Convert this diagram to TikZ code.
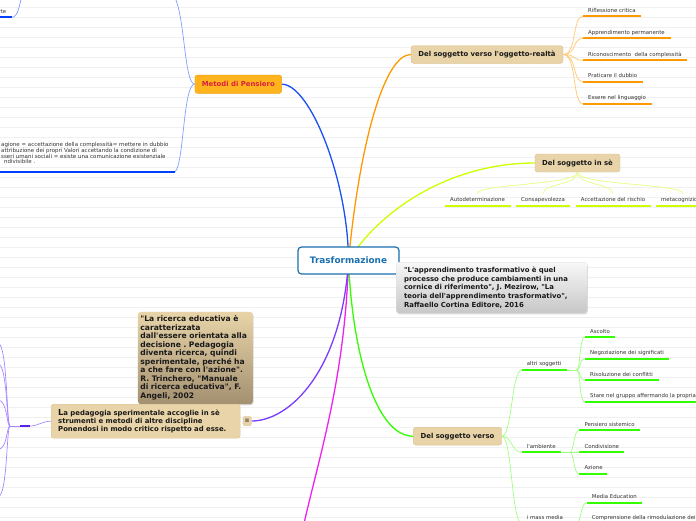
\documentclass[tikz,border=0pt]{standalone}
\usepackage{fontspec}
\setmainfont{DejaVu Sans}[Ligatures=TeXOff]
\usetikzlibrary{shadows,backgrounds}
\frenchspacing
\definecolor{rulegray}{HTML}{F0F0F0}
\definecolor{hubblue}{HTML}{1A6FAE}
\definecolor{boxtan}{HTML}{E8D4A8}
\definecolor{boxtanedge}{HTML}{DCC493}
\definecolor{ricdark}{HTML}{A39070}
\definecolor{metfill}{HTML}{FFB41E}
\definecolor{metedge}{HTML}{F0A010}
\definecolor{metred}{HTML}{D8213F}
\definecolor{leafgray}{HTML}{333333}
\definecolor{cblue}{HTML}{1A50F5}
\definecolor{lblue}{HTML}{80A0FF}
\definecolor{ulblue}{HTML}{0040FF}
\definecolor{corange}{HTML}{FF9900}
\definecolor{lorange}{HTML}{FFC870}
\definecolor{clime}{HTML}{CCFF00}
\definecolor{llime}{HTML}{E2FF80}
\definecolor{cgreen}{HTML}{33FF00}
\definecolor{lgreen}{HTML}{A0FF80}
\definecolor{cmag}{HTML}{EE22EE}
\definecolor{cpurp}{HTML}{7A3CFF}
\definecolor{lpurp}{HTML}{A888FF}
\definecolor{ulpurp}{HTML}{5522EE}
\tikzset{
  ruling/.style={draw=rulegray, line width=0.6pt},
  hub/.style={draw=hubblue, line width=1.2pt, fill=white, rounded corners=3.5pt, text=hubblue,
    font=\fontsize{8.9}{10}\selectfont\bfseries, minimum width=101pt, minimum height=27pt, inner sep=0pt},
  topic/.style={fill=boxtan, draw=boxtanedge, line width=0.4pt, rounded corners=2.5pt, text=black!90,
    font=\fontsize{6.9}{8}\selectfont\bfseries, inner sep=0pt},
  metodo/.style={fill=metfill, draw=metedge, line width=0.4pt, rounded corners=2.5pt, text=metred,
    font=\fontsize{6.9}{8}\selectfont\bfseries, inner sep=0pt},
  leaftext/.style={font=\fontsize{5.4}{6}\selectfont, text=leafgray, inner sep=0pt, anchor=base west},
  ul/.style={line width=2.2pt, draw=#1},
  twig/.style={line width=0.7pt, draw=#1},
  limb/.style={line width=1.3pt, draw=#1},
  quotebox/.style={top color=black!3, bottom color=black!22, draw=black!12, line width=0.3pt,
    rounded corners=3pt, drop shadow={shadow xshift=0.6pt, shadow yshift=-1.2pt, opacity=0.3},
    text width=175pt, align=left, inner xsep=8pt, inner ysep=4.5pt, minimum height=51pt,
    font=\fontsize{6.9}{8.6}\selectfont\bfseries, text=black!90},
  ricbox/.style={top color=boxtan, bottom color=ricdark, draw=none,
    rounded corners=3pt, drop shadow={shadow xshift=0.6pt, shadow yshift=-1.2pt, opacity=0.3},
    text width=110pt, align=left, inner xsep=2.5pt, inner ysep=4pt, minimum height=91.7pt,
    font=\fontsize{7.6}{8.5}\selectfont\bfseries, text=black!90},
}
\newcommand\leafline[6]{%
  \draw[ul=#5] (#2,#4) coordinate (#1) -- (#3,#4) coordinate (#1e);
  \node[leaftext] (#1t) at ([xshift=5pt,yshift=4.3pt]#1) {#6};
}
\begin{document}
\begin{tikzpicture}[x=1pt,y=-1pt]
\useasboundingbox (0,0) rectangle (696,520);
\clip (0,0) rectangle (696,520);
\begin{scope}[on background layer]
  \fill[white] (0,0) rectangle (696,520);
  \foreach \k in {0,...,51} \draw[ruling] (0,7+10*\k) -- (696,7+10*\k);
\end{scope}

% ---- main nodes
\node[hub] (C) at (348.5,260.5) {Trasformazione};
\node[topic, minimum width=152pt, minimum height=17.6pt] (OR) at (487,54.5) {Del soggetto verso l'oggetto-realtà};
\node[topic, minimum width=85pt, minimum height=18pt] (SE) at (577.5,163) {Del soggetto in sè};
\node[topic, minimum width=88.4pt, minimum height=17.7pt] (SV) at (457.5,436.2) {Del soggetto verso};
\node[metodo, minimum width=86.7pt, minimum height=18.3pt] (MP) at (238.3,84.2) {Metodi di Pensiero};

\node[quotebox, anchor=north west] (Q) at (396,262) {"L'apprendimento trasformativo è quel\\processo che produce cambiamenti in una\\cornice di riferimento", J. Mezirow, "La\\teoria dell'apprendimento trasformativo",\\Raffaello Cortina Editore, 2016};

\node[ricbox, anchor=north west] (R) at (137.7,311.7) {"La ricerca educativa è\\caratterizzata\\dall'essere orientata alla\\decisione . Pedagogia\\diventa ricerca, quindi\\sperimentale, perché ha\\a che fare con l'azione".\\R. Trinchero, "Manuale\\di ricerca educativa", F.\\Angeli, 2002};

\node[topic, anchor=north west, text width=175pt, align=left, inner xsep=7pt, inner ysep=4pt,
  minimum height=34pt, font=\fontsize{6.9}{8.3}\selectfont\bfseries] (P) at (51,404)
  {{\fontsize{8.3}{8.3}\selectfont L}a pedagogia sperimentale accoglie in sè\\strumenti e metodi di altre discipline\\Ponendosi in modo critico rispetto ad esse.};
\node[topic, minimum width=8.5pt, minimum height=9.5pt, font=\fontsize{6}{6}\selectfont] (PI) at (247.2,421) {≡};

% ---- left text block (Metodi di Pensiero)
\node[anchor=north west, inner sep=0pt, align=left, text=leafgray, font=\fontsize{5.5}{5.9}\selectfont] (LT) at (1,141.6)
  {agione = accettazione della complessità= mettere in dubbio\\attribuzione dei propri Valori accettando la condizione di\\sseri umani sociali = esiste una comunicazione esistenziale\\\hspace*{3pt}ndivisibile .};
\draw[ul=ulblue] (-3,171.7) coordinate (LTs) -- (175,171.7) coordinate (LTe);
\node[leaftext, anchor=base east] (TLt) at (6.5,13.2) {rte};
\draw[ul=ulblue] (-3,17.3) coordinate (TLs) -- (11.7,17.3) coordinate (TLe);
\coordinate (MPup) at (174,-4);
\coordinate (TLup) at (22,-4);

% ---- orange leaves
\leafline{o1}{583}{641}{16.3}{corange}{Riflessione critica}
\leafline{o2}{583}{670.7}{38.3}{corange}{Apprendimento permanente}
\leafline{o3}{583}{687}{60.3}{corange}{Riconoscimento\ \ della complessità}
\leafline{o4}{583}{643}{81.7}{corange}{Praticare il dubbio}
\leafline{o5}{583}{651.7}{103.7}{corange}{Essere nel linguaggio}

% ---- lime leaves
\leafline{l1}{445}{511}{205.7}{clime}{Autodeterminazione}
\leafline{l2}{516}{570}{205.7}{clime}{Consapevolezza}
\leafline{l3}{575.7}{650.7}{205.7}{clime}{Accettazione del rischio}
\leafline{l4}{656}{705}{205.7}{clime}{metacognizione}

% ---- green leaves
\leafline{g1}{521.7}{566.7}{370}{cgreen}{altri soggetti}
\leafline{ga}{585}{615}{337.3}{cgreen}{Ascolto}
\leafline{gb}{585}{669.3}{358.7}{cgreen}{Negoziazione dei significati}
\leafline{gc}{585}{659}{380.3}{cgreen}{Risoluzione dei conflitti}
\leafline{gd}{585}{705}{401.7}{cgreen}{Stare nel gruppo affermando la propria}
\leafline{g2}{521.7}{560.7}{452.3}{cgreen}{l'ambiente}
\leafline{ge}{579.3}{640}{430.3}{cgreen}{Pensiero sistemico}
\leafline{gf}{579.3}{624}{452.3}{cgreen}{Condivisione}
\leafline{gg}{579.3}{607.3}{474}{cgreen}{Azione}
\leafline{g3}{521.7}{566.7}{523.6}{cgreen}{i mass media}
\leafline{gh}{586.7}{641.7}{502.7}{cgreen}{Media Education}
\leafline{gi}{586.7}{720}{523.6}{cgreen}{Comprensione della rimodulazione dei}

% ---- purple left
\draw[ul=ulpurp] (20,426) coordinate (pu0) -- (30,426) coordinate (pu);
\coordinate (MG) at (303,528);
\foreach \i/\y in {1/343.3,2/364,3/400,4/449.3,5/496.7} \coordinate (pl\i) at (-2,\y);

% ---- connectors
\begin{scope}[on background layer]
  % blue
  \draw[limb=cblue] (C.center) .. controls (348,180) and (310,84.2) .. (MP.east);
  \draw[twig=lblue] (MP.west) .. controls (184,84) and (185,14) .. (MPup);
  \draw[twig=lblue] (MP.west) .. controls (183,84) and (184,165) .. (LTe);
  \draw[twig=lblue] (TLe) .. controls (18,17.3) and (19,6) .. (TLup);
  % orange
  \draw[limb=corange] (C.center) .. controls (360,140) and (385,54.5) .. (OR.west);
  \foreach \n in {o1,o2,o3,o4,o5}
    \draw[twig=lorange] (OR.east) .. controls +(14,0) and +(-11,0) .. (\n);
  % lime
  \draw[limb=clime] (C.center) .. controls (380,210) and (450,163) .. (SE.west);
  \foreach \n in {l1,l2,l3,l4}
    \draw[twig=llime] (SE.south) .. controls +(0,13) and +(0,-10) .. ([yshift=3.5pt]\n t.north);
  % green
  \draw[limb=cgreen] (C.center) .. controls (352,350) and (375,436.2) .. (SV.west);
  \foreach \n in {g1,g2,g3}
    \draw[twig=lgreen] (SV.east) .. controls +(10,0) and +(-10,0) .. (\n);
  \draw[twig=lgreen] (g1e) -- ++(10,0) coordinate (g1b);
  \draw[twig=lgreen] (g2e) -- ++(9.3,0) coordinate (g2b);
  \draw[twig=lgreen] (g3e) -- ++(10,0) coordinate (g3b);
  \foreach \n in {ga,gb,gc,gd}
    \draw[twig=lgreen] (g1b) .. controls +(4,0) and +(-6,0) .. (\n);
  \foreach \n in {ge,gf,gg}
    \draw[twig=lgreen] (g2b) .. controls +(4,0) and +(-6,0) .. (\n);
  \foreach \n in {gh,gi}
    \draw[twig=lgreen] (g3b) .. controls +(4,0) and +(-6,0) .. (\n);
  % magenta
  \draw[limb=cmag] (C.center) .. controls (345,380) and (318,460) .. (MG);
  % purple
  \draw[limb=cpurp] (C.center) .. controls (342,370) and (290,421) .. (PI.east);
  \draw[twig=lpurp] (P.west) .. controls +(-9,0) and +(8,0) .. (pu);
  \draw[twig=lpurp] (pu0) -- (10,426) coordinate (pb);
  \foreach \i in {1,...,5}
    \draw[twig=lpurp] (pb) .. controls (6.5,426) and (7.5,0|-pl\i) .. (pl\i);
\end{scope}
\end{tikzpicture}
\end{document}
